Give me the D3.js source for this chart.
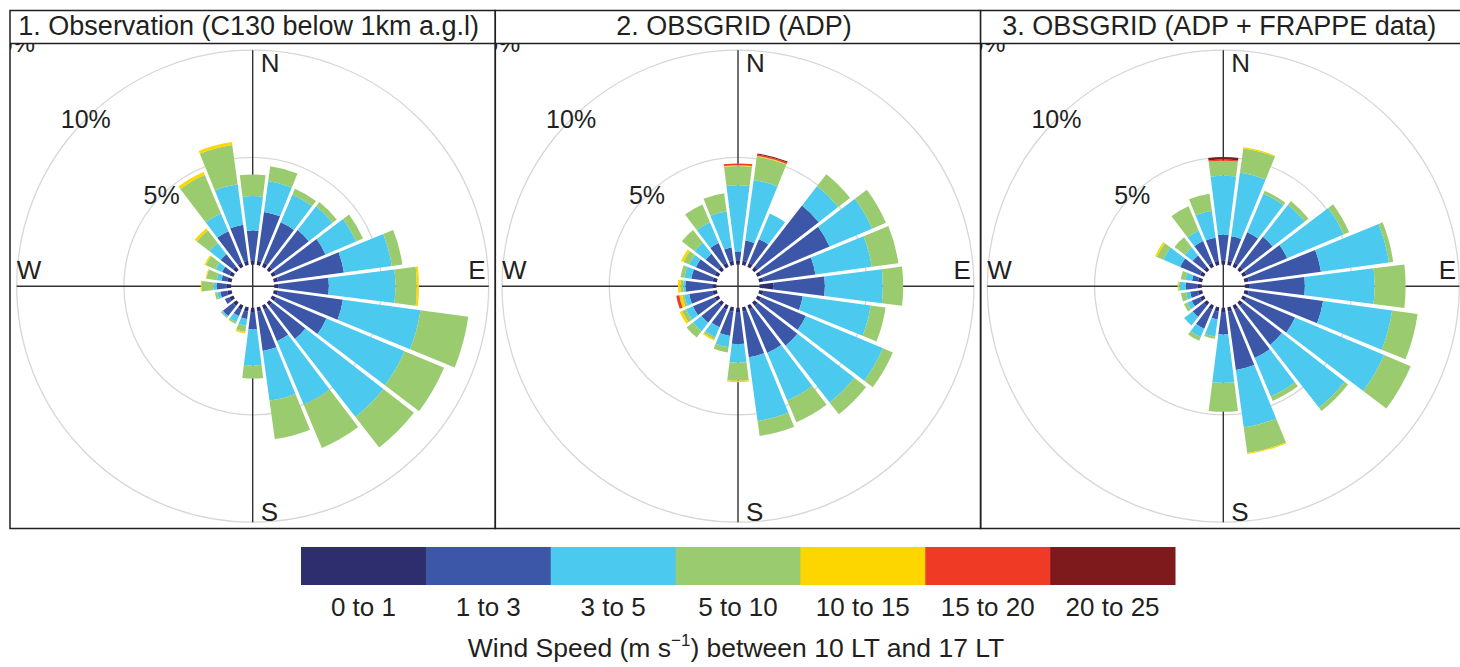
<!DOCTYPE html>
<html>
<head>
<meta charset="utf-8">
<script src="https://cdn.jsdelivr.net/npm/d3@7"></script>
<style>
  body { margin: 0; background: #fff; }
  svg { display: block; }
  text { font-family: "Liberation Sans", Arial, Helvetica, sans-serif; fill: #231f20; }
</style>
</head>
<body>
<svg id="chart" width="1460" height="667"></svg>
<script>
// ---------------- DATA ----------------
const directions = [0,15,30,45,60,75,90,105,120,135,150,165,180,195,210,225,240,255,270,285,300,315,330,345];
const speedBins = ["0 to 1","1 to 3","3 to 5","5 to 10","10 to 15","15 to 20","20 to 25"];
const binColors = ["#2e2d6e","#3c57a7","#4bc9ef","#9bcb6f","#fdd600","#ef3a26","#7f1a1c"];
const panelTitles = ["1. Observation (C130 below 1km a.g.l)","2. OBSGRID (ADP)","3. OBSGRID (ADP + FRAPPE data)"];
const ringTicks = [5,10,15];
const ringLabels = ["5%","10%","15%"];
const compassLabels = ["N","E","S","W"];
const legendTitle = ["Wind Speed (m s","\u22121",") between 10 LT and 17 LT"];

// Panel 1: Observation (frequency %, per direction, per speed bin)
const obs_0_1   = [0.2,0.2,0.2,0.2,0.2,0.2,0.2,0.2,0.2,0.2,0.2,0.2,0.2,0.2,0.2,0.2,0.2,0.2,0.2,0.2,0.2,0.2,0.2,0.2];
const obs_1_3   = [1.4,2.3,2.05,2.15,2.5,3.1,2.35,3.05,2.55,1.95,1.6,1.85,0.8,0.35,0.33,0.6,0.23,0.33,0.47,0.28,0.37,0.73,1.6,1.7];
const obs_3_5   = [1.6,1.45,1.4,1.4,1.55,2.25,3.1,3.65,3.95,4.6,3.2,2.35,1.7,0.32,0.3,0.07,0,0.14,0.15,0.22,0.32,0.66,0.9,1.9];
const obs_5_10  = [1.0,0.7,0.3,0.25,0.35,0.5,1.0,2.25,2.0,1.8,2.2,1.8,0.6,0.29,0.1,0.05,0,0.12,0.55,0.48,0.5,0.75,1.95,1.85];
const obs_10_15 = [0,0,0,0,0,0,0.1,0,0,0,0,0,0,0.07,0,0,0,0,0.05,0.04,0.07,0.12,0.14,0.14];
const obs_15_20 = [0,0,0,0,0,0,0,0,0,0,0,0,0,0,0,0,0,0,0,0,0,0,0,0];
const obs_20_25 = [0,0,0,0,0,0,0,0,0,0,0,0,0,0,0,0,0,0,0,0,0,0,0,0];

// Panel 2: OBSGRID (ADP)
const adp_0_1   = [0.2,0.2,0.2,0.2,0.2,0.2,0.65,0.2,0.2,0.2,0.2,0.2,0.2,0.2,0.2,0.2,0.2,0.2,0.2,0.2,0.2,0.2,0.2,0.2];
const adp_1_3   = [0.4,0.95,1.2,3.6,3.45,2.45,2.4,1.85,2.25,2.35,2.2,2.15,1.5,1.15,0.9,1.0,1.1,1.1,1.25,1.0,0.95,0.75,1.0,0.63];
const adp_3_5   = [3.1,2.85,1.3,1.15,2.15,2.65,2.7,3.2,3.9,3.35,2.4,3.0,0.87,0.53,0.5,0.5,0.35,0.23,0.1,0.33,0.33,0.65,1.05,1.7];
const adp_5_10  = [0.9,1.1,0,0.7,0.7,1.25,0.95,0.7,0.5,0.7,1.1,0.7,0.84,0.25,0.1,0.37,0.2,0.1,0.13,0.18,0.3,0.75,0.9,0.85];
const adp_10_15 = [0.04,0.03,0,0,0,0,0,0,0,0,0,0,0.06,0,0.07,0,0.12,0.14,0.12,0,0.12,0,0,0];
const adp_15_20 = [0.08,0.07,0,0,0,0,0,0,0,0,0,0,0,0,0,0,0,0.14,0,0,0,0,0,0];
const adp_20_25 = [0,0.05,0,0,0,0,0,0,0,0,0,0,0,0,0,0,0,0,0,0,0,0,0,0];

// Panel 3: OBSGRID (ADP + FRAPPE data)
const frp_0_1   = [0.2,0.2,0.2,0.2,0.2,0.2,0.2,0.2,0.2,0.2,0.2,0.2,0.2,0.2,0.2,0.2,0.2,0.2,0.2,0.2,0.2,0.2,0.2,0.2];
const frp_1_3   = [1.2,1.15,1.55,1.75,2.05,3.4,2.6,3.5,2.45,2.3,2.45,2.75,1.05,0.37,0.97,0.65,0.42,0.37,0.55,0.28,1.0,0.65,1.1,1.08];
const frp_3_5   = [2.75,3.0,1.95,1.9,2.85,3.2,3.25,3.25,4.5,3.7,1.95,2.7,2.25,0.8,0.43,0.5,0.23,0.19,0.29,0.31,0.85,0.47,0.53,1.27];
const frp_5_10  = [0.7,1.15,0.15,0.22,0.28,0.2,1.45,1.2,1.35,0.2,0.22,1.2,1.35,0.11,0.18,0,0.16,0.24,0.03,0.22,0.33,0.6,1.23,0.8];
const frp_10_15 = [0,0.05,0,0,0,0,0,0,0,0,0,0.05,0,0,0,0,0,0,0.06,0,0.09,0,0,0];
const frp_15_20 = [0.05,0,0,0,0,0,0,0,0,0,0,0,0,0,0,0,0,0,0,0,0,0,0,0];
const frp_20_25 = [0.12,0,0,0,0,0,0,0,0,0,0,0,0,0,0,0,0,0,0,0,0,0,0,0];

const panelData = [
  [obs_0_1, obs_1_3, obs_3_5, obs_5_10, obs_10_15, obs_15_20, obs_20_25],
  [adp_0_1, adp_1_3, adp_3_5, adp_5_10, adp_10_15, adp_15_20, adp_20_25],
  [frp_0_1, frp_1_3, frp_3_5, frp_5_10, frp_10_15, frp_15_20, frp_20_25]
];

// ---------------- LAYOUT ----------------
const svg = d3.select("#chart");
const panelW = 485.3, panelX0 = 10, panelTop = 10.5, titleBottom = 43.5, panelBottom = 528.5;
const cyC = 286.2, cxOff = 242.7;
const holeR = 21.5;
const rScale = d3.scaleLinear().domain([0, 10]).range([holeR, 236]);
const ink = "#231f20";
const deg = Math.PI / 180;
const halfW = 7.5 - 0.3; // sector half width in degrees

const defs = svg.append("defs");

panelData.forEach((bins, i) => {
  const x0 = panelX0 + i * panelW;
  const cx = x0 + cxOff;

  defs.append("clipPath").attr("id", "clip" + i)
    .append("rect").attr("x", x0).attr("y", panelTop)
    .attr("width", panelW).attr("height", panelBottom - panelTop);

  const g = svg.append("g").attr("clip-path", `url(#clip${i})`);
  const pg = g.append("g").attr("transform", `translate(${cx},${cyC})`);

  // grid circles
  pg.selectAll("circle.grid").data(ringTicks.slice(0, 2)).join("circle")
    .attr("class", "grid").attr("r", d => rScale(d))
    .attr("fill", "none").attr("stroke", "#d6d6d6").attr("stroke-width", 1.3);

  // axis cross
  const R = rScale(10);
  pg.append("path")
    .attr("d", `M${-R},0H${R}M0,${-R}V${R}`)
    .attr("stroke", "#333").attr("stroke-width", 1.4).attr("fill", "none");

  // stacked bars
  const arc = d3.arc().padRadius(100).padAngle(0.022);
  const segs = [];
  directions.forEach((dir, j) => {
    let cum = 0;
    bins.forEach((arr, b) => {
      const v = arr[j];
      if (v > 0) {
        segs.push({ dir, b, inner: cum, outer: cum + v });
        cum += v;
      }
    });
  });
  pg.selectAll("path.bar").data(segs).join("path")
    .attr("class", "bar")
    .attr("fill", d => binColors[d.b])
    .attr("d", d => arc({
      innerRadius: rScale(d.inner),
      outerRadius: rScale(d.outer),
      startAngle: (d.dir - halfW) * deg,
      endAngle: (d.dir + halfW) * deg
    }));

  // ring labels at 315 degrees (the 15% one is partly hidden by the frame, as in the original)
  pg.selectAll("text.ring").data(ringTicks).join("text")
    .attr("class", "ring")
    .attr("x", d => -rScale(d) * Math.SQRT1_2)
    .attr("y", d => -rScale(d) * Math.SQRT1_2)
    .attr("dy", "0.36em")
    .attr("text-anchor", "middle")
    .attr("font-size", 25)
    .text((d, k) => ringLabels[k]);

  // compass labels
  const compassPos = [
    { x: 8, y: 72 - cyC },
    { x: 215.5, y: 279 - cyC },
    { x: 8, y: 521.5 - cyC },
    { x: -236, y: 278.5 - cyC }
  ];
  pg.selectAll("text.compass").data(compassLabels).join("text")
    .attr("class", "compass")
    .attr("x", (d, k) => compassPos[k].x)
    .attr("y", (d, k) => compassPos[k].y)
    .attr("font-size", 26)
    .text(d => d);

  // title box (drawn over the clipped area)
  g.append("rect")
    .attr("x", x0).attr("y", panelTop)
    .attr("width", panelW).attr("height", titleBottom - panelTop)
    .attr("fill", "#fff");
  svg.append("path")
    .attr("d", `M${x0},${titleBottom}H${x0 + panelW}`)
    .attr("stroke", ink).attr("stroke-width", 1.5);
  svg.append("rect")
    .attr("x", x0).attr("y", panelTop)
    .attr("width", panelW).attr("height", panelBottom - panelTop)
    .attr("fill", "none").attr("stroke", ink).attr("stroke-width", 1.5);
  svg.append("text")
    .attr("x", cx - 4).attr("y", 35)
    .attr("text-anchor", "middle")
    .attr("font-size", 27)
    .text(panelTitles[i]);
});

// ---------------- LEGEND ----------------
const lx = d3.scaleBand().domain(speedBins).range([301, 1175]).paddingInner(0);
const lg = svg.append("g");
lg.selectAll("rect").data(speedBins).join("rect")
  .attr("x", d => lx(d)).attr("y", 547)
  .attr("width", lx.bandwidth() + 0.5).attr("height", 38)
  .attr("fill", (d, k) => binColors[k]);
lg.selectAll("text.lab").data(speedBins).join("text")
  .attr("class", "lab")
  .attr("x", d => lx(d) + lx.bandwidth() / 2)
  .attr("y", 616)
  .attr("text-anchor", "middle")
  .attr("font-size", 26)
  .text(d => d);

const tt = lg.append("text")
  .attr("x", 736).attr("y", 657)
  .attr("text-anchor", "middle")
  .attr("font-size", 26.5);
tt.append("tspan").text(legendTitle[0]);
tt.append("tspan").attr("dy", -11).attr("font-size", 17).text(legendTitle[1]);
tt.append("tspan").attr("dy", 11).text(legendTitle[2]);
</script>
</body>
</html>
